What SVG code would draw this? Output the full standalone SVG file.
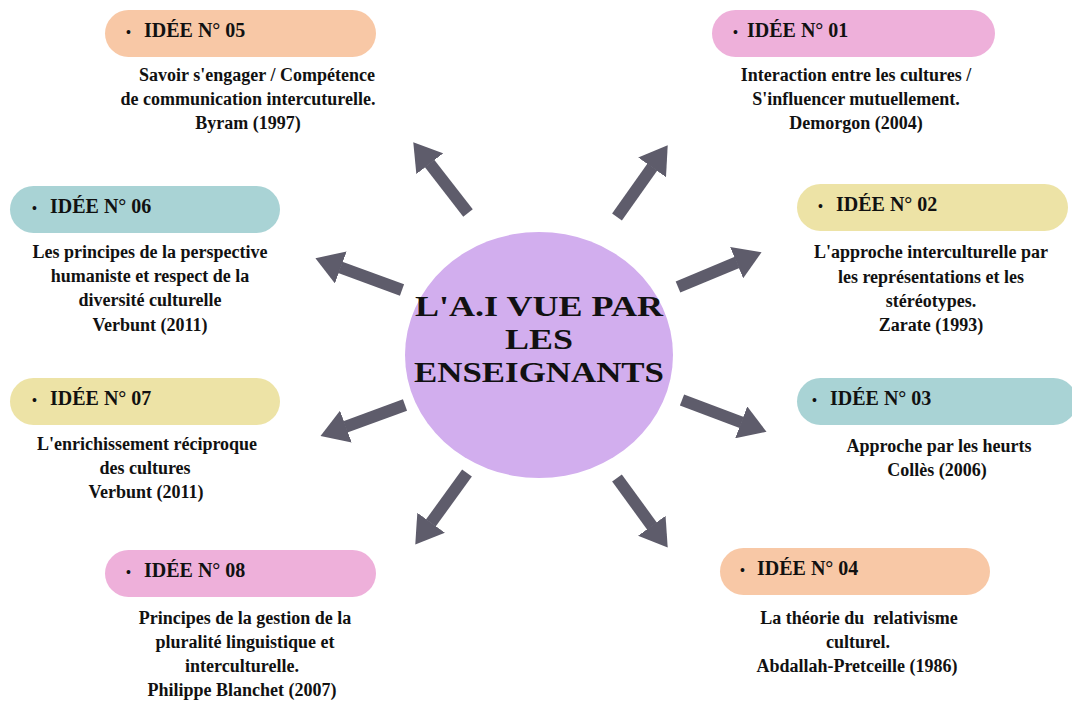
<svg xmlns="http://www.w3.org/2000/svg" width="1072" height="702" viewBox="0 0 1072 702">
  <defs>
    <style>
      text { font-family: "Liberation Serif", "Times New Roman", serif; font-weight: bold; fill: #111111; }
      .pill-label { font-size: 20px; }
      .bullet { font-size: 14px; }
      .desc { font-size: 18px; text-anchor: middle; }
      .title { font-size: 30px; text-anchor: middle; }
      .peach { fill: #F8C8A6; }
      .pink { fill: #EEB0DA; }
      .teal { fill: #A9D3D5; }
      .yellow { fill: #EDE3A6; }
      .shaft { stroke: #5E5C6B; stroke-width: 12; fill: none; marker-end: url(#head); }
    </style>
    <marker id="head" markerUnits="userSpaceOnUse" viewBox="0 0 27 34" refX="0.5" refY="17" markerWidth="27" markerHeight="34" orient="auto">
      <path d="M0,0 L27,17 L0,34 Z" fill="#5E5C6B"/>
    </marker>
  </defs>

  <rect width="1072" height="702" fill="#FFFFFF"/>

  <!-- arrows radiating from the central topic -->
  <g id="connectors">
    <line class="shaft" x1="468" y1="213" x2="429.5" y2="163.3"/>
    <line class="shaft" x1="617" y1="217" x2="652.4" y2="167"/>
    <line class="shaft" x1="402" y1="290" x2="340.3" y2="267.3"/>
    <line class="shaft" x1="678" y1="287" x2="737.1" y2="262.4"/>
    <line class="shaft" x1="405" y1="405" x2="345.4" y2="426.8"/>
    <line class="shaft" x1="682" y1="400" x2="741.7" y2="422.5"/>
    <line class="shaft" x1="617" y1="478" x2="652.1" y2="526.2"/>
    <line class="shaft" x1="467" y1="473" x2="430.8" y2="523.1"/>
  </g>

  <!-- central topic -->
  <g id="center">
    <ellipse cx="539" cy="355" rx="134" ry="123" fill="#D2AEEE"/>
    <text class="title" x="539" y="316" textLength="248" lengthAdjust="spacingAndGlyphs">L'A.I VUE PAR</text>
    <text class="title" x="539" y="349" textLength="68" lengthAdjust="spacingAndGlyphs">LES</text>
    <text class="title" x="539" y="382" textLength="250" lengthAdjust="spacingAndGlyphs">ENSEIGNANTS</text>
  </g>

  <g id="idee-05">
    <rect class="peach" x="105" y="10" width="271" height="47" rx="23.5"/>
    <text x="126" y="37"><tspan class="bullet">•</tspan><tspan class="pill-label" x="144">IDÉE N° 05</tspan></text>
    <text class="desc" x="257" y="81">Savoir s'engager / Compétence</text>
    <text class="desc" x="248" y="105">de communication intercuturelle.</text>
    <text class="desc" x="248" y="129">Byram (1997)</text>
  </g>

  <g id="idee-01">
    <rect class="pink" x="712" y="10" width="283" height="47" rx="23.5"/>
    <text x="733" y="37"><tspan class="bullet">•</tspan><tspan class="pill-label" x="747">IDÉE N° 01</tspan></text>
    <text class="desc" x="856" y="81">Interaction entre les cultures /</text>
    <text class="desc" x="856" y="105">S'influencer mutuellement.</text>
    <text class="desc" x="856" y="129">Demorgon (2004)</text>
  </g>

  <g id="idee-06">
    <rect class="teal" x="10" y="186" width="270" height="47" rx="23.5"/>
    <text x="32" y="213"><tspan class="bullet">•</tspan><tspan class="pill-label" x="50">IDÉE N° 06</tspan></text>
    <text class="desc" x="150" y="258">Les principes de la perspective</text>
    <text class="desc" x="150" y="282">humaniste et respect de la</text>
    <text class="desc" x="150" y="306">diversité culturelle</text>
    <text class="desc" x="150" y="331">Verbunt (2011)</text>
  </g>

  <g id="idee-02">
    <rect class="yellow" x="797" y="184" width="271" height="47" rx="23.5"/>
    <text x="818" y="211"><tspan class="bullet">•</tspan><tspan class="pill-label" x="836">IDÉE N° 02</tspan></text>
    <text class="desc" x="931" y="258">L'approche interculturelle par</text>
    <text class="desc" x="931" y="283">les représentations et les</text>
    <text class="desc" x="931" y="307">stéréotypes.</text>
    <text class="desc" x="931" y="331">Zarate (1993)</text>
  </g>

  <g id="idee-07">
    <rect class="yellow" x="10" y="378" width="270" height="47" rx="23.5"/>
    <text x="32" y="405"><tspan class="bullet">•</tspan><tspan class="pill-label" x="50">IDÉE N° 07</tspan></text>
    <text class="desc" x="147" y="450">L'enrichissement réciproque</text>
    <text class="desc" x="145" y="474">des cultures</text>
    <text class="desc" x="146" y="498">Verbunt (2011)</text>
  </g>

  <g id="idee-03">
    <rect class="teal" x="797" y="378" width="280" height="47" rx="23.5"/>
    <text x="812" y="405"><tspan class="bullet">•</tspan><tspan class="pill-label" x="830">IDÉE N° 03</tspan></text>
    <text class="desc" x="939" y="452">Approche par les heurts</text>
    <text class="desc" x="937" y="476">Collès (2006)</text>
  </g>

  <g id="idee-08">
    <rect class="pink" x="105" y="550" width="271" height="47" rx="23.5"/>
    <text x="126" y="577"><tspan class="bullet">•</tspan><tspan class="pill-label" x="144">IDÉE N° 08</tspan></text>
    <text class="desc" x="245" y="624">Principes de la gestion de la</text>
    <text class="desc" x="245" y="648">pluralité linguistique et</text>
    <text class="desc" x="242" y="672">interculturelle.</text>
    <text class="desc" x="242" y="696">Philippe Blanchet (2007)</text>
  </g>

  <g id="idee-04">
    <rect class="peach" x="720" y="548" width="270" height="47" rx="23.5"/>
    <text x="740" y="575"><tspan class="bullet">•</tspan><tspan class="pill-label" x="757">IDÉE N° 04</tspan></text>
    <text class="desc" x="859" y="624" xml:space="preserve">La théorie du  relativisme</text>
    <text class="desc" x="858" y="648">culturel.</text>
    <text class="desc" x="857" y="672">Abdallah-Pretceille (1986)</text>
  </g>
</svg>
